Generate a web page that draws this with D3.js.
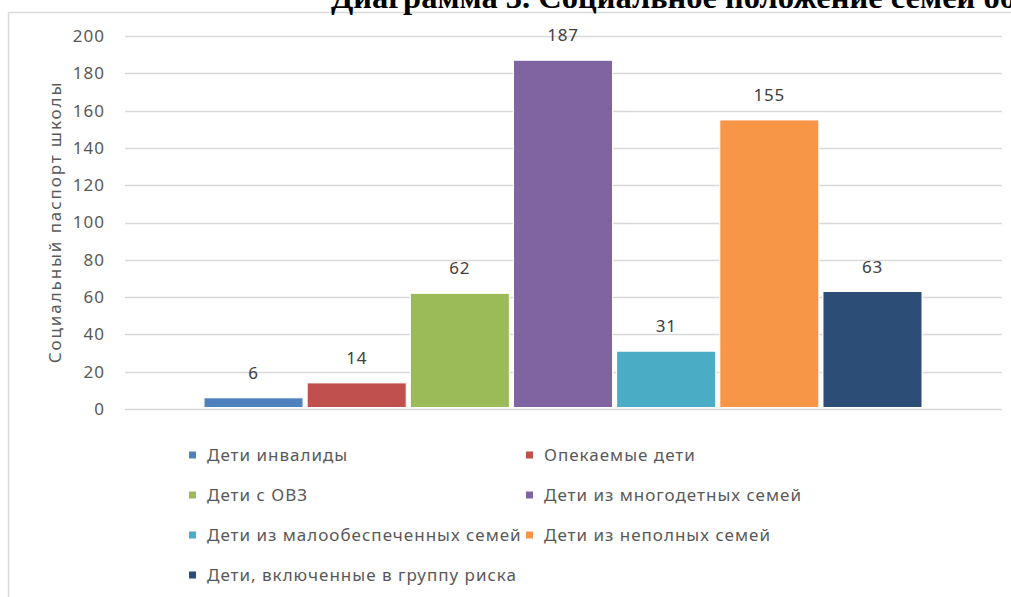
<!DOCTYPE html>
<html><head><meta charset="utf-8">
<script src="https://cdn.jsdelivr.net/npm/d3@7"></script>
<style>body{margin:0;background:#fff}svg{display:block}</style>
</head><body>
<svg id="c" width="1011" height="597"></svg>
<script>
const categories = ["Дети инвалиды","Опекаемые дети","Дети с ОВЗ","Дети из многодетных семей","Дети из малообеспеченных семей","Дети из неполных семей","Дети, включенные в группу риска"];
const values = [6, 14, 62, 187, 31, 155, 63];
const colors = ["#4F81BD","#C0504D","#9BBB59","#8064A2","#4BACC6","#F79646","#2C4D75"];
const yTicks = [0,20,40,60,80,100,120,140,160,180,200];
const titleText = "Диаграмма 3. Социальное положение семей обучающихся";
const yTitle = "Социальный паспорт школы";

const svg = d3.select("#c");
const font = "'Noto Sans', sans-serif";

// frame
svg.append("line").attr("x1",8.5).attr("x2",1011).attr("y1",12.5).attr("y2",12.5).attr("stroke","#d9d9d9").attr("stroke-width",1.5);
svg.append("line").attr("x1",8.5).attr("x2",8.5).attr("y1",12.5).attr("y2",597).attr("stroke","#d9d9d9").attr("stroke-width",1.5);

// title (cropped at top, as in the reference)
svg.append("text").attr("x",331).attr("y",8).attr("font-family","'Liberation Serif', serif").attr("font-weight","bold").attr("font-size",32.5).attr("fill","#000").text(titleText);

const y = d3.scaleLinear().domain([0,200]).range([409,36]);
const x = d3.scaleBand().domain(categories).range([204,922]).paddingInner(0.04).paddingOuter(0);

// gridlines
svg.append("g").selectAll("line").data(yTicks).join("line")
  .attr("x1",125).attr("x2",1002).attr("y1",d=>Math.round(y(d))+0.5).attr("y2",d=>Math.round(y(d))+0.5)
  .attr("stroke","#d9d9d9").attr("stroke-width",1.5);

// y axis labels
const yAxis = d3.axisLeft(y).tickValues(yTicks).tickSize(0).tickPadding(0);
const ga = svg.append("g").attr("transform","translate(105,0)").call(yAxis);
ga.select(".domain").remove();
ga.selectAll("text").attr("font-family",font).attr("font-size",17).attr("letter-spacing",1).attr("fill","#595959");

// y title
svg.append("text").attr("transform","translate(61,222) rotate(-90)").attr("text-anchor","middle")
  .attr("font-family",font).attr("font-size",17).attr("letter-spacing",1.9).attr("fill","#595959").text(yTitle);

// bars
svg.append("g").selectAll("rect").data(values).join("rect")
  .attr("x",(d,i)=>x(categories[i])).attr("width",x.bandwidth())
  .attr("y",d=>y(d)).attr("height",d=>y(0)-y(d)-1.5)
  .attr("fill",(d,i)=>colors[i]).attr("stroke","#fff").attr("stroke-width",1);

// value labels
svg.append("g").selectAll("text").data(values).join("text")
  .attr("x",(d,i)=>x(categories[i])+x.bandwidth()/2).attr("y",d=>y(d)-19)
  .attr("text-anchor","middle").attr("font-family",font).attr("font-size",17).attr("letter-spacing",0.8).attr("fill","#404040").text(d=>d);

// legend
const lg = svg.append("g").selectAll("g").data(categories).join("g")
  .attr("transform",(d,i)=>`translate(${i%2===0?189:526},${455+Math.floor(i/2)*40})`);
lg.append("rect").attr("x",0).attr("y",-3.5).attr("width",7).attr("height",7).attr("fill",(d,i)=>colors[i]);
lg.append("text").attr("x",18).attr("y",0).attr("dy","0.35em").attr("font-family",font).attr("font-size",17).attr("letter-spacing",1).attr("fill","#595959").text(d=>d);
</script>
</body></html>
